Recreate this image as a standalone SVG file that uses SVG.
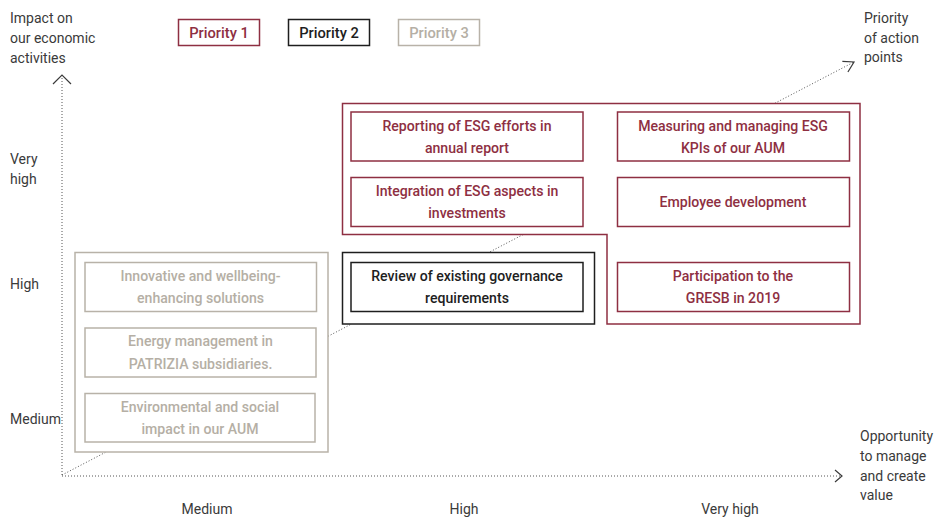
<svg xmlns="http://www.w3.org/2000/svg" width="939" height="519" viewBox="0 0 939 519">
<style>
text{font-family:Roboto,"Liberation Sans",sans-serif;}
.ax{font-size:14px;fill:#3a3a3a;}
.lbl{font-size:14.1px;font-weight:500;text-anchor:middle;}
.r rect,.r path{fill:#fff;stroke:#8e2f42;stroke-width:1.5;}
.r text{fill:#8e2f42;}
.k rect{fill:#fff;stroke:#1e1e1e;stroke-width:1.5;}
.k text{fill:#1e1e1e;}
.g rect{fill:#fff;stroke:#b8b2a8;stroke-width:1.5;}
.g text{fill:#b5afa5;}
.dot{fill:none;stroke:#555;stroke-width:1;stroke-dasharray:1 2;}
.chev{fill:none;stroke:#3a3a3a;stroke-width:1.2;}
</style>
<defs>
<marker id="ah" markerWidth="14" markerHeight="14" refX="12" refY="7" orient="auto" markerUnits="userSpaceOnUse">
<path d="M2 1 L12 7 L2 13" class="chev"/>
</marker>
</defs>
<g id="connectors">
<line class="dot" x1="62" y1="475" x2="62" y2="76"/>
<path class="chev" d="M53 84 L62 75 L71 84"/>
<line class="dot" x1="62" y1="476" x2="841" y2="476"/>
<path class="chev" d="M835 470 L842 476 L835 482"/>
<line class="dot" x1="62" y1="475" x2="854" y2="62" marker-end="url(#ah)"/>
</g>
<g id="axis-labels" class="ax">
<text x="10" y="23">Impact on</text>
<text x="10" y="43">our economic</text>
<text x="10" y="63">activities</text>
<text x="10" y="164">Very</text>
<text x="10" y="184">high</text>
<text x="10" y="289">High</text>
<text x="10" y="424">Medium</text>
<text x="207" y="514" text-anchor="middle">Medium</text>
<text x="464" y="514" text-anchor="middle">High</text>
<text x="730" y="514" text-anchor="middle">Very high</text>
<text x="864" y="23">Priority</text>
<text x="864" y="43">of action</text>
<text x="864" y="62">points</text>
<text x="860" y="441">Opportunity</text>
<text x="860" y="461">to manage</text>
<text x="860" y="481">and create</text>
<text x="860" y="500">value</text>
</g>
<g id="legend">
<g id="legend-p1" class="r"><rect x="178.5" y="19.5" width="81" height="26"/><text class="lbl" x="219" y="37.5" style="font-size:14.7px">Priority 1</text></g>
<g id="legend-p2" class="k"><rect x="288.5" y="19.5" width="81" height="26"/><text class="lbl" x="329" y="37.5" style="font-size:14.7px">Priority 2</text></g>
<g id="legend-p3" class="g"><rect x="398.5" y="19.5" width="81" height="26"/><text class="lbl" x="439" y="37.5" style="font-size:14.7px">Priority 3</text></g>
</g>
<g id="priority3-group" class="g">
<rect x="75" y="252.5" width="253" height="199.5"/>
</g>
<g id="priority2-group" class="k">
<rect x="342.5" y="252.5" width="252" height="71.5"/>
</g>
<g id="priority1-group" class="r">
<path d="M342.5 103.5 H860 V324 H607 V234.5 H342.5 Z"/>
</g>
<g id="n-reporting" class="r"><rect x="351" y="112" width="232" height="49"/><text class="lbl" x="467" y="131">Reporting of ESG efforts in</text><text class="lbl" x="467" y="153">annual report</text></g>
<g id="n-integration" class="r"><rect x="351" y="177.5" width="232" height="49"/><text class="lbl" x="467" y="196">Integration of ESG aspects in</text><text class="lbl" x="467" y="218">investments</text></g>
<g id="n-measuring" class="r"><rect x="617.5" y="112" width="232" height="49"/><text class="lbl" x="733" y="131">Measuring and managing ESG</text><text class="lbl" x="733" y="153">KPIs of our AUM</text></g>
<g id="n-employee" class="r"><rect x="617.5" y="177.5" width="232" height="49"/><text class="lbl" x="733" y="207">Employee development</text></g>
<g id="n-gresb" class="r"><rect x="617.5" y="262.5" width="232" height="49"/><text class="lbl" x="733" y="281">Participation to the</text><text class="lbl" x="733" y="303">GRESB in 2019</text></g>
<g id="n-review" class="k"><rect x="351" y="262.5" width="232" height="49"/><text class="lbl" x="467" y="281">Review of existing governance</text><text class="lbl" x="467" y="303">requirements</text></g>
<g id="n-innovative" class="g"><rect x="85" y="262.5" width="231.5" height="49"/><text class="lbl" x="200.5" y="281">Innovative and wellbeing-</text><text class="lbl" x="200.5" y="303">enhancing solutions</text></g>
<g id="n-energy" class="g"><rect x="85" y="328" width="231" height="49"/><text class="lbl" x="200.5" y="346">Energy management in</text><text class="lbl" x="200.5" y="369">PATRIZIA subsidiaries.</text></g>
<g id="n-environmental" class="g"><rect x="85" y="393.5" width="230" height="48.5"/><text class="lbl" x="200" y="412">Environmental and social</text><text class="lbl" x="200" y="434">impact in our AUM</text></g>
</svg>
